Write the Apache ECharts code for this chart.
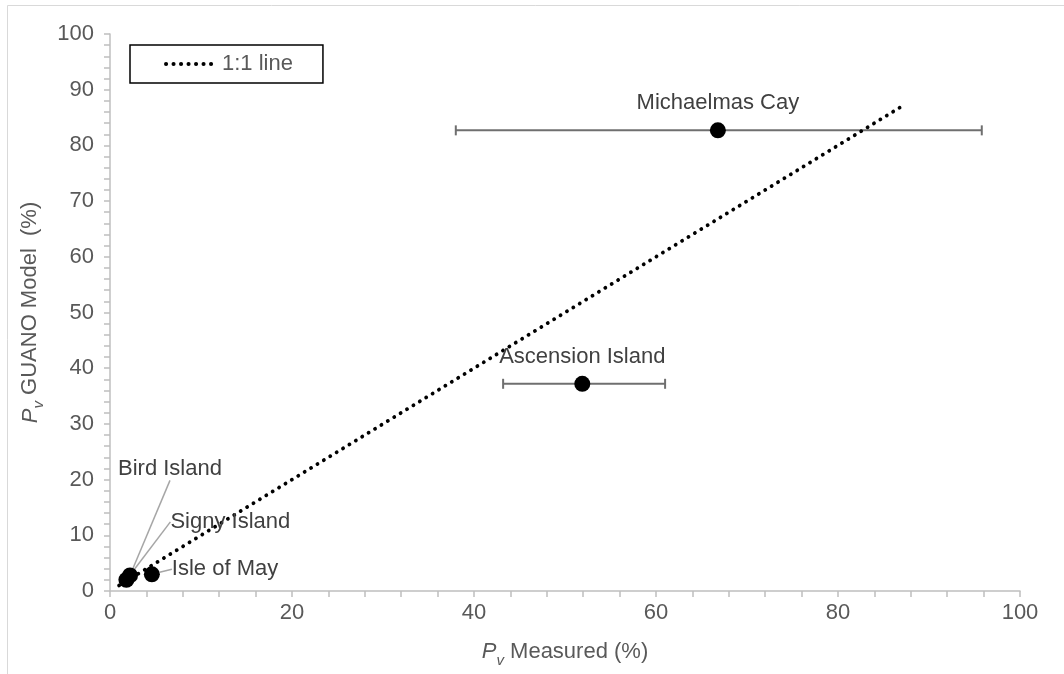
<!DOCTYPE html>
<html><head><meta charset="utf-8">
<script src="https://cdn.jsdelivr.net/npm/echarts@6/dist/echarts.min.js"></script>
<style>html,body{margin:0;padding:0;background:#fff}#c{width:1064px;height:674px}</style>
</head><body><div id="c"></div>
<script>
const sites = ['Michaelmas Cay', 'Ascension Island', 'Bird Island', 'Signy Island', 'Isle of May'];
const measured = [66.8, 51.9, 2.2, 1.8, 4.6];
const modelled = [82.7, 37.2, 2.8, 2.0, 3.0];
const errLow  = [38.0, 43.2, null, null, null];
const errHigh = [95.8, 61.0, null, null, null];
const oneToOne = [[1, 1], [87, 87]];
const xTicks = { min: 0, max: 100, interval: 20 };
const yTicks = { min: 0, max: 100, interval: 10 };

const FONT = 'Liberation Sans, Arial, sans-serif';
const FS = 22;
const labelOffsets = {
  'Bird Island':  { position: [-4, -98], align: 'left', verticalAlign: 'middle' },
  'Signy Island': { position: [52, -50], align: 'left', verticalAlign: 'middle' },
  'Isle of May':  { position: [28, 3],   align: 'left', verticalAlign: 'middle' }
};

const scatterData = sites.map((s, i) => {
  const d = { name: s, value: [measured[i], modelled[i]] };
  if (labelOffsets[s]) {
    d.label = Object.assign({ show: true }, labelOffsets[s]);
    d.labelLine = { show: true };
  }
  return d;
});
const errData = sites.map((s, i) => [measured[i], modelled[i], errLow[i], errHigh[i]]).filter(r => r[2] != null);

const axisCommon = {
  axisLine: { show: true, lineStyle: { color: '#bfbfbf', width: 1.5 } },
  axisTick: { show: true, length: 6, lineStyle: { color: '#bfbfbf', width: 1.5 } },
  minorTick: { show: true, splitNumber: 5, length: 6, lineStyle: { color: '#bfbfbf', width: 1.5 } },
  splitLine: { show: false },
  axisLabel: { color: '#595959', fontSize: FS, fontFamily: FONT },
  nameTextStyle: { color: '#595959', fontSize: FS, fontFamily: FONT }
};
const rich = {
  p: { fontStyle: 'italic', fontSize: FS, color: '#595959', fontFamily: FONT, verticalAlign: 'bottom', lineHeight: 24, padding: [0, 0, 5, 0] },
  s: { fontStyle: 'italic', fontSize: 15, color: '#595959', fontFamily: FONT, verticalAlign: 'bottom', lineHeight: 18 },
  t: { fontSize: FS, color: '#595959', fontFamily: FONT, verticalAlign: 'bottom', lineHeight: 24, padding: [0, 0, 5, 0] }
};

const chart = echarts.init(document.getElementById('c'), null, { renderer: 'canvas' });
chart.setOption({
  animation: false,
  backgroundColor: '#fff',
  grid: { left: 110, right: 44, top: 34, bottom: 83, containLabel: false },
  graphic: [
    { type: 'line', shape: { x1: 7.5, y1: 5.5, x2: 7.5, y2: 674 }, style: { stroke: '#d9d9d9', lineWidth: 1 } },
    { type: 'line', shape: { x1: 7.5, y1: 5.5, x2: 1064, y2: 5.5 }, style: { stroke: '#d9d9d9', lineWidth: 1 } }
  ],
  legend: {
    left: 130, top: 45,
    padding: [8, 30, 8, 34],
    borderColor: '#000', borderWidth: 1.5,
    itemWidth: 51, itemHeight: 14, itemGap: 6,
    itemStyle: { opacity: 0 },
    lineStyle: { width: 4 },
    textStyle: { color: '#595959', fontSize: FS, fontFamily: FONT },
    data: ['1:1 line']
  },
  xAxis: Object.assign({}, axisCommon, {
    type: 'value', min: xTicks.min, max: xTicks.max, interval: xTicks.interval,
    name: '{p|P}{s|v}{t| Measured (%)}', nameLocation: 'middle', nameGap: 53,
    nameTextStyle: { rich: rich },
    axisLabel: Object.assign({}, axisCommon.axisLabel, { margin: 11 })
  }),
  yAxis: Object.assign({}, axisCommon, {
    type: 'value', min: yTicks.min, max: yTicks.max, interval: yTicks.interval,
    name: '{p|P}{s|v}{t| GUANO Model  (%)}', nameLocation: 'middle', nameGap: 57, nameRotate: 90,
    nameTextStyle: { rich: rich },
    axisLabel: Object.assign({}, axisCommon.axisLabel, { margin: 16 })
  }),
  series: [
    {
      name: '1:1 line', type: 'line', data: oneToOne, showSymbol: false, symbol: 'none',
      lineStyle: { color: '#000', width: 3.8, type: [0.1, 7.4], cap: 'round' },
      itemStyle: { color: '#000' }, z: 3
    },
    {
      name: 'err', type: 'custom', data: errData, z: 2,
      encode: { x: [2, 3], y: 1 },
      renderItem: function (params, api) {
        const y = api.value(1), lo = api.value(2), hi = api.value(3);
        const a = api.coord([lo, y]), b = api.coord([hi, y]);
        const h = 5;
        const st = { stroke: '#6f6f6f', lineWidth: 2 };
        return { type: 'group', children: [
          { type: 'line', shape: { x1: a[0], y1: a[1], x2: b[0], y2: b[1] }, style: st },
          { type: 'line', shape: { x1: a[0], y1: a[1] - h, x2: a[0], y2: a[1] + h }, style: st },
          { type: 'line', shape: { x1: b[0], y1: b[1] - h, x2: b[0], y2: b[1] + h }, style: st }
        ] };
      }
    },
    {
      name: 'sites', type: 'scatter', data: scatterData, symbol: 'circle', symbolSize: 16, z: 4,
      itemStyle: { color: '#000', opacity: 1 },
      label: { show: true, position: 'top', distance: 8, formatter: '{b}', color: '#404040', fontSize: FS, fontFamily: FONT },
      labelLine: { show: false, lineStyle: { color: '#a6a6a6', width: 1.5 } }
    }
  ]
});
</script></body></html>
